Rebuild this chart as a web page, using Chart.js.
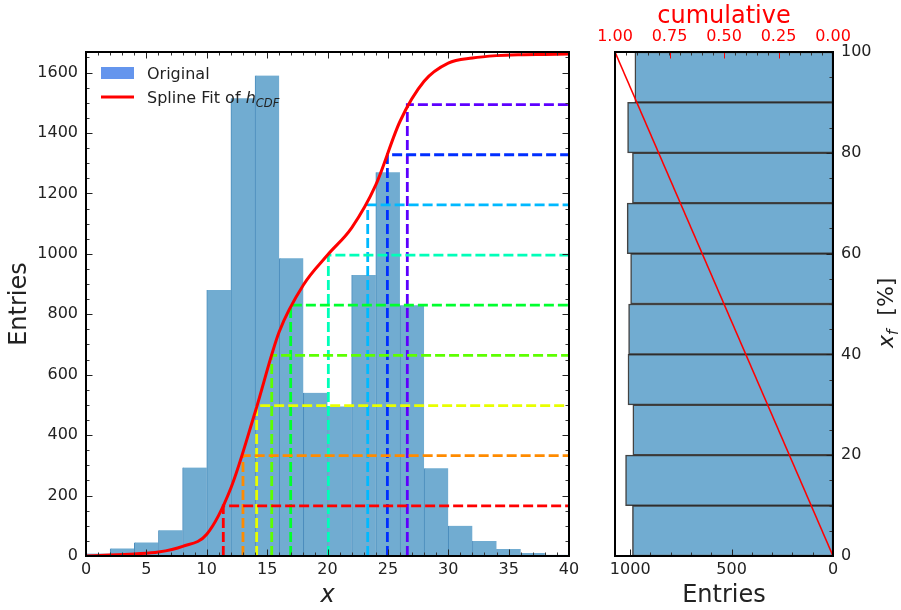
<!DOCTYPE html>
<html><head><meta charset="utf-8">
<script src="https://cdn.jsdelivr.net/npm/chart.js@4.4.0/dist/chart.umd.min.js"></script>
<style>
html,body{margin:0;padding:0;background:#fff;width:901px;height:610px;overflow:hidden}
#c1{position:absolute;left:0;top:0}
#c2{position:absolute;left:590px;top:0}
</style></head><body>
<canvas id="c1" width="590" height="610"></canvas>
<canvas id="c2" width="311" height="610"></canvas>
<script>
// ---------- data ----------
const binCenters = [1,3,5,7,9,11,13,15,17,19,21,23,25,27,29,31,33,35,37,39];
const binCounts  = [8,25,45,85,293,880,1515,1590,985,540,495,930,1270,830,290,100,50,23,10,4];
const splineX = [0,2,4,6,8,10,12,14,16,18,20,22,24,26,28,30,32,34,36,38,40];
const splineY = [0,3,7,13,32,72,225,475,742,897,996,1086,1228,1438,1571,1631,1648,1656,1659,1660,1661];
const quantileX     = [11.37,13.0,14.13,15.38,16.95,20.07,23.33,24.96,26.61];
const quantileLevel = [166,332,498,664,830,996,1162,1328,1494];
const leftXTicks = [0,5,10,15,20,25,30,35,40];
const leftYTicks = [0,200,400,600,800,1000,1200,1400,1600];

const fracCenters = [5,15,25,35,45,55,65,75,85,95];
const fracCounts  = [989,1023,987,1011,1008,998,1015,989,1013,977];
const cumLineX = [1,0];
const cumLineY = [100,0];
const rightYTicks = [0,20,40,60,80,100];
const entriesTicks = [0,500,1000];
const cumulativeTicks = [0,0.25,0.5,0.75,1];

// ---------- styles ----------
const quantileColors = quantileX.map((_, i) => 'hsl(' + (i * 360 / 11).toFixed(1) + ',100%,50%)');
const TEXT = '#222';
const BAR_FILL = '#71acd1';
Chart.defaults.font.family = "'DejaVu Sans', sans-serif";
Chart.defaults.color = TEXT;

function frameTicks(specs) {
  return {
    id: 'frameTicks',
    afterDatasetsDraw(chart) {
      const ctx = chart.ctx, a = chart.chartArea;
      ctx.save();
      specs.forEach(s => {
        const sc = chart.scales[s.scale];
        const draw = (v, len, color) => {
          const p = Math.round(sc.getPixelForValue(v)) + 0.5;
          ctx.strokeStyle = color; ctx.lineWidth = 1; ctx.beginPath();
          if (s.side === 'bottom') { ctx.moveTo(p, a.bottom); ctx.lineTo(p, a.bottom - len); }
          else if (s.side === 'top') { ctx.moveTo(p, a.top); ctx.lineTo(p, a.top + len); }
          else if (s.side === 'left') { ctx.moveTo(a.left, p); ctx.lineTo(a.left + len, p); }
          else { ctx.moveTo(a.right, p); ctx.lineTo(a.right - len, p); }
          ctx.stroke();
        };
        for (let v = s.min; v <= s.max + 1e-9; v += s.minorStep) draw(v, 3.5, s.minorColor || '#333');
        s.major.forEach(v => draw(v, 6.5, s.majorColor || '#222'));
      });
      ctx.strokeStyle = '#000'; ctx.lineWidth = 2;
      ctx.strokeRect(a.left, a.top, a.right - a.left, a.bottom - a.top);
      ctx.restore();
    }
  };
}

const legendPlugin = {
  id: 'legendInside',
  afterDraw(chart) {
    const ctx = chart.ctx;
    ctx.save();
    ctx.fillStyle = '#6495ED';
    ctx.fillRect(101, 67, 33, 12);
    ctx.strokeStyle = '#ff0000'; ctx.lineWidth = 3;
    ctx.beginPath(); ctx.moveTo(101, 97); ctx.lineTo(134, 97); ctx.stroke();
    ctx.fillStyle = TEXT; ctx.textBaseline = 'alphabetic'; ctx.textAlign = 'left';
    ctx.font = "16px 'DejaVu Sans'";
    ctx.fillText('Original', 147, 79);
    let s = 'Spline Fit of ';
    ctx.fillText(s, 147, 103);
    let x = 147 + ctx.measureText(s).width;
    ctx.font = "italic 16px 'DejaVu Sans'";
    ctx.fillText('h', x, 103);
    x += ctx.measureText('h').width;
    ctx.font = "italic 11.5px 'DejaVu Sans'";
    ctx.fillText('CDF', x, 106.5);
    ctx.restore();
  }
};

const plain = v => String(v);

// ---------- left chart ----------
new Chart(document.getElementById('c1'), {
  type: 'bar',
  data: {
    datasets: [
      { type: 'line', data: splineX.map((x, i) => ({ x, y: splineY[i] })), borderColor: '#ff0000', borderWidth: 3,
        pointRadius: 0, cubicInterpolationMode: 'monotone', fill: false, order: 1 },
      ...quantileX.map((q, i) => ({ type: 'line',
        data: [{ x: q, y: 0 }, { x: q, y: quantileLevel[i] }, { x: 40, y: quantileLevel[i] }],
        borderColor: quantileColors[i], borderWidth: 2.8, borderDash: [10, 4], pointRadius: 0, tension: 0, fill: false, order: 2 })),
      { type: 'bar', data: binCenters.map((x, i) => ({ x, y: binCounts[i] })), backgroundColor: BAR_FILL,
        borderColor: '#4a8cbc', borderWidth: { left: 1, right: 0, top: 0, bottom: 0 }, borderSkipped: false,
        barPercentage: 1, categoryPercentage: 1, grouped: false, order: 3 }
    ]
  },
  options: {
    responsive: false, animation: false, devicePixelRatio: 1,
    layout: { padding: { top: 52, right: 21, left: 0, bottom: 0 } },
    plugins: { legend: { display: false }, tooltip: { enabled: false } },
    scales: {
      x: { type: 'linear', min: 0, max: 40, offset: false,
        grid: { display: false, drawTicks: false }, border: { display: false },
        afterBuildTicks: s => { s.ticks = leftXTicks.map(v => ({ value: v })); },
        afterFit: s => { s.height = 54; },
        ticks: { font: { size: 16 }, color: TEXT, padding: 4, maxRotation: 0, autoSkip: false, callback: plain },
        title: { display: true, text: 'x', color: TEXT, font: { size: 24, style: 'italic' }, padding: { top: 0, bottom: 0 } } },
      y: { type: 'linear', min: 0, max: 1668,
        grid: { display: false, drawTicks: false }, border: { display: false },
        afterBuildTicks: s => { s.ticks = leftYTicks.map(v => ({ value: v })); },
        afterFit: s => { s.width = 86; },
        ticks: { font: { size: 16 }, color: TEXT, padding: 8, autoSkip: false, callback: plain },
        title: { display: true, text: 'Entries', color: TEXT, font: { size: 24 }, padding: { top: 5, bottom: 0 } } }
    }
  },
  plugins: [frameTicks([
    { scale: 'x', side: 'bottom', major: leftXTicks, min: 0, max: 40, minorStep: 1 },
    { scale: 'x', side: 'top', major: leftXTicks, min: 0, max: 40, minorStep: 1 },
    { scale: 'y', side: 'left', major: leftYTicks, min: 0, max: 1650, minorStep: 50 },
    { scale: 'y', side: 'right', major: leftYTicks, min: 0, max: 1650, minorStep: 50 }
  ]), legendPlugin]
});

// ---------- right chart ----------
const yLabelPlugin = {
  id: 'yLabelRight',
  afterDraw(chart) {
    const ctx = chart.ctx;
    ctx.save();
    ctx.translate(303, 348);
    ctx.rotate(-Math.PI / 2);
    ctx.fillStyle = TEXT; ctx.textBaseline = 'alphabetic'; ctx.textAlign = 'left';
    let x = 0;
    ctx.font = "italic 22px 'DejaVu Sans'";
    ctx.fillText('x', x, 0); x += ctx.measureText('x').width;
    ctx.font = "italic 15px 'DejaVu Sans'";
    ctx.fillText('f', x, 5); x += ctx.measureText('f').width + 14;
    ctx.font = "22px 'DejaVu Sans'";
    ctx.fillText('[%]', x, 0);
    ctx.restore();
  }
};

new Chart(document.getElementById('c2'), {
  type: 'bar',
  data: {
    datasets: [
      { type: 'line', xAxisID: 'x2', yAxisID: 'y', data: cumLineX.map((x, i) => ({ x, y: cumLineY[i] })),
        borderColor: '#ff0000', borderWidth: 1.5, pointRadius: 0, fill: false, order: 1 },
      { type: 'bar', xAxisID: 'x', yAxisID: 'y', data: fracCenters.map((y, i) => ({ x: fracCounts[i], y })),
        backgroundColor: BAR_FILL, borderColor: 'rgba(20,20,20,0.8)', borderWidth: 1.5, borderSkipped: false,
        barPercentage: 1, categoryPercentage: 1, grouped: false, order: 2 }
    ]
  },
  options: {
    indexAxis: 'y',
    responsive: false, animation: false, devicePixelRatio: 1,
    layout: { padding: { top: 0, right: 0, left: 25, bottom: 0 } },
    plugins: { legend: { display: false }, tooltip: { enabled: false } },
    scales: {
      x: { type: 'linear', axis: 'x', position: 'bottom', reverse: true, min: 0, max: 1075, offset: false,
        grid: { display: false, drawTicks: false }, border: { display: false },
        afterBuildTicks: s => { s.ticks = entriesTicks.map(v => ({ value: v })); },
        afterFit: s => { s.height = 54; },
        ticks: { font: { size: 16 }, color: TEXT, padding: 4, maxRotation: 0, autoSkip: false, callback: plain },
        title: { display: true, text: 'Entries', color: TEXT, font: { size: 24 }, padding: { top: 0, bottom: 0 } } },
      x2: { type: 'linear', axis: 'x', position: 'top', reverse: true, min: 0, max: 1, offset: false,
        grid: { display: false, drawTicks: false }, border: { display: false },
        afterBuildTicks: s => { s.ticks = cumulativeTicks.map(v => ({ value: v })); },
        afterFit: s => { s.height = 52; },
        ticks: { font: { size: 16 }, color: '#ff0000', padding: 6, maxRotation: 0, autoSkip: false,
          callback: v => Number(v).toFixed(2) },
        title: { display: true, text: 'cumulative', color: '#ff0000', font: { size: 24 }, padding: { top: 2, bottom: 0 } } },
      y: { type: 'linear', axis: 'y', position: 'right', min: 0, max: 100, offset: false,
        grid: { display: false, drawTicks: false }, border: { display: false },
        afterBuildTicks: s => { s.ticks = rightYTicks.map(v => ({ value: v })); },
        afterFit: s => { s.width = 68; },
        ticks: { font: { size: 16 }, color: TEXT, padding: 8, autoSkip: false, callback: plain } }
    }
  },
  plugins: [frameTicks([
    { scale: 'x', side: 'bottom', major: entriesTicks, min: 0, max: 1000, minorStep: 100 },
    { scale: 'x2', side: 'top', major: cumulativeTicks, min: 0, max: 1, minorStep: 0.05, majorColor: '#ff0000' },
    { scale: 'y', side: 'right', major: rightYTicks, min: 0, max: 100, minorStep: 5 }
  ]), yLabelPlugin]
});
</script>
</body></html>
